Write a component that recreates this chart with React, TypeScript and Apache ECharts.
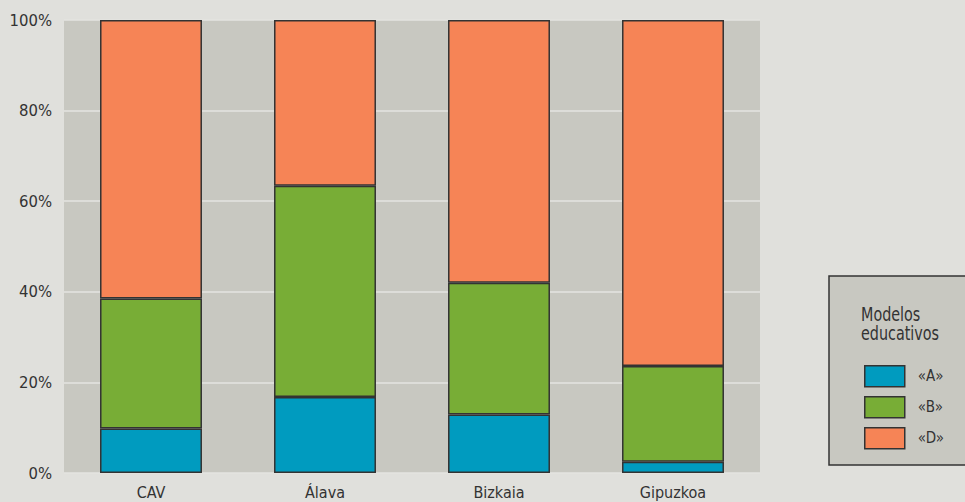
import React, { useEffect, useRef } from "react";
import * as echarts from "echarts";

// Territories on the category axis
const categories = ["CAV", "Álava", "Bizkaia", "Gipuzkoa"];

// Share of pupils per educational model (percent)
const modelA = [9.8, 16.8, 12.9, 2.5];
const modelB = [28.7, 46.6, 29.1, 21.1];
const modelD = [61.5, 36.6, 58.0, 76.4];

const seriesNames = ["«A»", "«B»", "«D»"];
const seriesColors = ["#009bbf", "#78ad36", "#f68456"];

const yTicks = [0, 20, 40, 60, 80, 100];

const FONT = "'Liberation Sans Narrow', 'DejaVu Sans Condensed', 'Liberation Sans', sans-serif";

export default function App() {
  const ref = useRef<HTMLDivElement>(null);

  useEffect(() => {
    if (!ref.current) return;
    const chart = echarts.init(ref.current, undefined, { renderer: "svg" });

    const values = [modelA, modelB, modelD];
    const series = values.map((data, i) => ({
      name: seriesNames[i],
      type: "bar" as const,
      stack: "total",
      barWidth: "58.6%",
      data,
      itemStyle: {
        color: seriesColors[i],
        borderColor: "#333333",
        borderWidth: 1.5,
      },
    }));

    chart.setOption({
      animation: false,
      backgroundColor: "#e0e0dc",
      textStyle: { fontFamily: FONT },
      grid: {
        left: 64,
        right: 205,
        top: 20,
        bottom: 29,
        show: true,
        backgroundColor: "#c8c8c1",
        borderWidth: 0,
      },
      xAxis: {
        type: "category",
        data: categories,
        axisLine: { show: false },
        axisTick: { show: false },
        axisLabel: {
          color: "#333333",
          fontSize: 16,
          fontFamily: FONT,
          margin: 11,
        },
      },
      yAxis: {
        type: "value",
        min: yTicks[0],
        max: yTicks[yTicks.length - 1],
        interval: 20,
        axisLine: { show: false },
        axisTick: { show: false },
        axisLabel: {
          color: "#333333",
          fontSize: 16.5,
          fontFamily: FONT,
          margin: 12,
          formatter: "{value}%",
        },
        splitLine: { lineStyle: { color: "#e4e4e0", width: 1.5 } },
      },
      legend: {
        orient: "vertical",
        left: 859,
        top: 360,
        itemWidth: 40,
        itemHeight: 21,
        itemGap: 8.5,
        icon: "rect",
        data: seriesNames,
        itemStyle: { borderColor: "#333333", borderWidth: 1.5 },
        textStyle: {
          color: "#333333",
          fontSize: 15,
          fontFamily: FONT,
          padding: [0, 0, 0, 8],
        },
      },
      graphic: [
        {
          type: "rect",
          z: -1,
          shape: { x: 829, y: 276, width: 200, height: 189 },
          style: { fill: "#c8c8c1", stroke: "#333333", lineWidth: 1.5 },
        },
        {
          type: "text",
          x: 861,
          y: 304,
          scaleX: 0.84,
          style: {
            text: "Modelos\neducativos",
            fill: "#333333",
            fontSize: 19,
            lineHeight: 20,
            fontFamily: FONT,
          },
        },
      ],
      series,
    });

    return () => chart.dispose();
  }, []);

  return (
    <div
      ref={ref}
      style={{ position: "fixed", left: 0, top: 0, width: 965, height: 502 }}
    />
  );
}
